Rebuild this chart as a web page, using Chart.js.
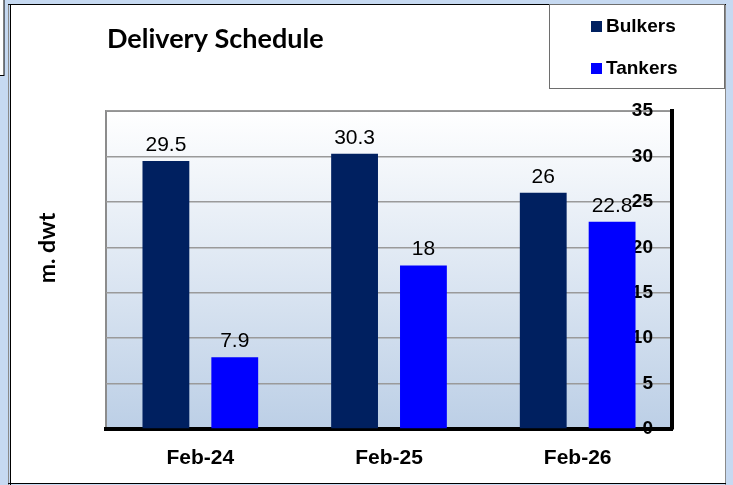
<!DOCTYPE html>
<html>
<head>
<meta charset="utf-8">
<script src="https://cdn.jsdelivr.net/npm/chart.js@4"></script>
<style>
  html, body { margin: 0; padding: 0; background: #c6d9f1; }
  canvas { display: block; }
</style>
</head>
<body>
<canvas id="deliveryChart" width="733" height="485"></canvas>
<script>
const categories = ['Feb-24', 'Feb-25', 'Feb-26'];
const bulkers = [29.5, 30.3, 26];
const tankers = [7.9, 18, 22.8];
const seriesNames = ['Bulkers', 'Tankers'];
const seriesColors = ['#002060', '#0000ff'];

// frame, white panel and the gradient behind the plot
const frame = {
  id: 'frame',
  beforeDraw(chart) {
    const { ctx, chartArea: { left, top, right, bottom } } = chart;
    ctx.save();
    ctx.fillStyle = '#c6d9f1';
    ctx.fillRect(0, 0, 733, 485);
    // little box cut off on the left
    ctx.fillStyle = '#fff';
    ctx.fillRect(0, 0, 4, 75);
    ctx.strokeStyle = '#000';
    ctx.lineWidth = 1;
    ctx.strokeRect(-1, -1, 5, 76.5);
    // main white panel
    ctx.fillStyle = '#fff';
    ctx.fillRect(10, 4, 716, 480);
    ctx.strokeStyle = '#8a8a8a';
    ctx.beginPath();
    ctx.moveTo(8.5, 4); ctx.lineTo(8.5, 485);
    ctx.moveTo(725.5, 4); ctx.lineTo(725.5, 485);
    ctx.stroke();
    ctx.strokeStyle = '#000';
    ctx.beginPath();
    ctx.moveTo(10.5, 4); ctx.lineTo(10.5, 485);
    ctx.moveTo(8, 4.5); ctx.lineTo(726, 4.5);
    ctx.moveTo(8, 483.5); ctx.lineTo(726, 483.5);
    ctx.stroke();

    const grad = ctx.createLinearGradient(0, top, 0, bottom);
    grad.addColorStop(0, '#ffffff');
    grad.addColorStop(1, '#bccfe6');
    ctx.fillStyle = grad;
    ctx.fillRect(left, top, right - left, bottom - top);

    // gray left and top border of the plot
    ctx.strokeStyle = '#8c8c8c';
    ctx.lineWidth = 2;
    ctx.beginPath();
    ctx.moveTo(left, bottom);
    ctx.lineTo(left, top);
    ctx.lineTo(right, top);
    ctx.stroke();

    // title
    ctx.fillStyle = '#000';
    ctx.font = 'bold 27px Lato';
    ctx.textBaseline = 'alphabetic';
    ctx.textAlign = 'left';
    ctx.fillText('Delivery Schedule', 107, 48);

    // axis title
    ctx.translate(55, 248);
    ctx.rotate(-Math.PI / 2);
    ctx.font = 'bold 23px Lato';
    ctx.textAlign = 'center';
    ctx.fillText('m. dwt', 0, 0);
    ctx.restore();

    // legend box
    ctx.save();
    ctx.fillStyle = '#fff';
    ctx.fillRect(549, 4, 175, 84);
    ctx.strokeStyle = '#6e6e6e';
    ctx.lineWidth = 1;
    ctx.strokeRect(549.5, 4.5, 175, 84);
    ctx.font = 'bold 19px "Liberation Sans"';
    ctx.textBaseline = 'middle';
    ctx.textAlign = 'left';
    seriesNames.forEach((name, i) => {
      const y = 27 + i * 42;
      ctx.fillStyle = seriesColors[i];
      ctx.fillRect(591, y - 6, 11, 11);
      ctx.fillStyle = '#000';
      ctx.fillText(name, 606, y);
    });
    ctx.restore();
  }
};

// numbers over the bars
const barValues = {
  id: 'barValues',
  afterDatasetsDraw(chart) {
    const { ctx } = chart;
    ctx.save();
    ctx.font = '21px "Liberation Sans"';
    ctx.fillStyle = '#000';
    ctx.textAlign = 'center';
    ctx.textBaseline = 'alphabetic';
    chart.data.datasets.forEach((ds, i) => {
      chart.getDatasetMeta(i).data.forEach((bar, j) => {
        ctx.fillText(String(ds.data[j]), bar.x, bar.y - 10);
      });
    });
    ctx.restore();
  }
};

new Chart(document.getElementById('deliveryChart'), {
  type: 'bar',
  data: {
    labels: categories,
    datasets: [
      { label: seriesNames[0], data: bulkers, backgroundColor: seriesColors[0] },
      { label: seriesNames[1], data: tankers, backgroundColor: seriesColors[1] }
    ]
  },
  plugins: [frame, barValues],
  options: {
    responsive: false,
    animation: false,
    devicePixelRatio: 1,
    layout: { padding: { left: 106, top: 111, right: 0, bottom: 0 } },
    datasets: {
      bar: { categoryPercentage: 0.73, barPercentage: 0.68, borderWidth: 0 }
    },
    plugins: {
      legend: { display: false },
      title: { display: false },
      tooltip: { enabled: false }
    },
    scales: {
      x: {
        grid: { display: false },
        border: { display: true, color: '#000', width: 4 },
        ticks: {
          color: '#000',
          font: { family: 'Liberation Sans', size: 21, weight: 'bold' },
          padding: 9
        },
        afterFit(scale) { scale.height = 56; }
      },
      y: {
        position: 'right',
        min: 0,
        max: 35,
        grid: { color: '#9a9a9a', lineWidth: 1.5, drawTicks: false },
        border: { display: true, color: '#000', width: 4 },
        ticks: {
          stepSize: 5,
          mirror: true,
          padding: -19,
          color: '#000',
          font: { family: 'Liberation Sans', size: 19, weight: 'bold' }
        },
        afterFit(scale) { scale.width = 61; }
      }
    }
  }
});
</script>
</body>
</html>
